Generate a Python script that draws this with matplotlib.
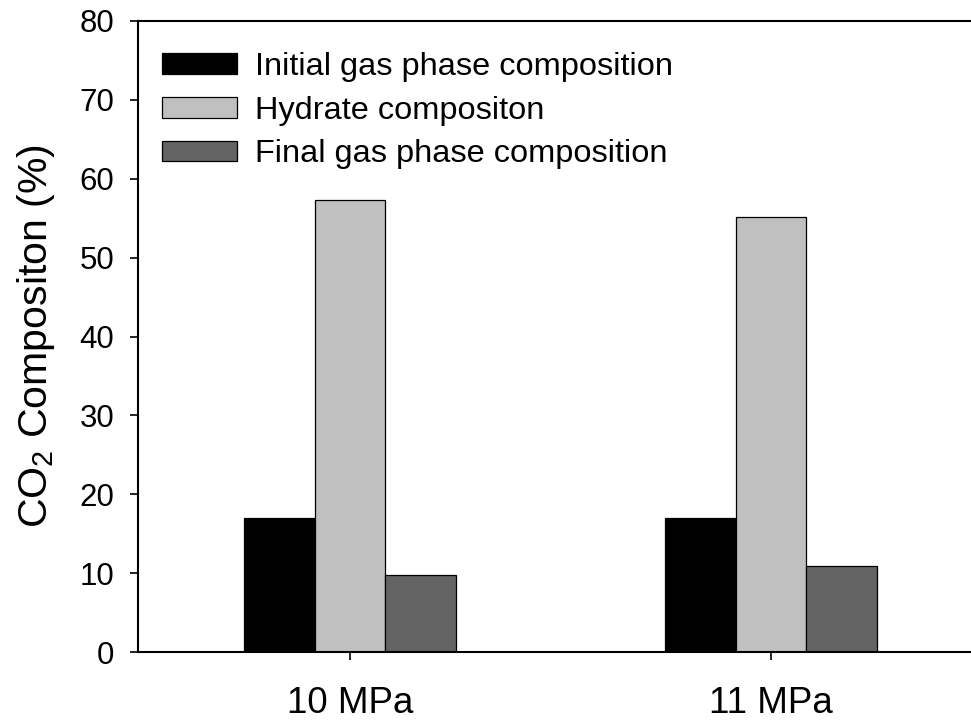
import matplotlib
matplotlib.use("Agg")
import matplotlib.pyplot as plt
import numpy as np

plt.rcParams['font.family'] = ['Liberation Sans', 'DejaVu Sans']
plt.rcParams['mathtext.fontset'] = 'custom'
plt.rcParams['mathtext.rm'] = 'Liberation Sans'
plt.rcParams['mathtext.it'] = 'Liberation Sans:italic'

# Data
pressures = ['10 MPa', '11 MPa']
series_names = ['Initial gas phase composition', 'Hydrate compositon',
                'Final gas phase composition']
initial_gas = [17.0, 17.0]
hydrate = [57.3, 55.1]
final_gas = [9.7, 10.9]
y_ticks = [0, 10, 20, 30, 40, 50, 60, 70, 80]

colors = ['#000000', '#c0c0c0', '#646464']

fig = plt.figure(figsize=(9.71, 7.21), dpi=100)
ax = fig.add_axes([138 / 971, 1 - 652 / 721, 1 - 138 / 971, (652 - 21) / 721])

x = np.arange(len(pressures))
width = 0.168
for i, (vals, name, col) in enumerate(zip([initial_gas, hydrate, final_gas],
                                          series_names, colors)):
    ax.bar(x + (i - 1) * width, vals, width, color=col, edgecolor='black',
           linewidth=0.9, label=name, zorder=2)

ax.set_xlim(-0.5036, 1.475)
ax.set_ylim(0, 80)
ax.set_yticks(y_ticks)
ax.set_xticks(x)
ax.set_xticklabels(pressures, fontsize=26.5)
ax.tick_params(axis='y', labelsize=22.5, direction='out', length=6, width=1.2, pad=11)
ax.tick_params(axis='x', direction='out', length=6, width=1.2, pad=18.5)

for s in ['left', 'bottom', 'top']:
    ax.spines[s].set_linewidth(1.5)
ax.spines['right'].set_visible(False)

ax.set_ylabel(r'CO$_\mathrm{2}$ Compositon (%)', fontsize=29.5, labelpad=16)

leg = ax.legend(loc='upper left', frameon=False,
                fontsize=23.4, handlelength=2.3, handleheight=0.6,
                handletextpad=0.55, labelspacing=0.42, borderaxespad=0.0,
                borderpad=0.0)
leg.set_bbox_to_anchor((162 / 971, 1 - 52 / 721), transform=fig.transFigure)

fig.savefig('out.png', dpi=100)
